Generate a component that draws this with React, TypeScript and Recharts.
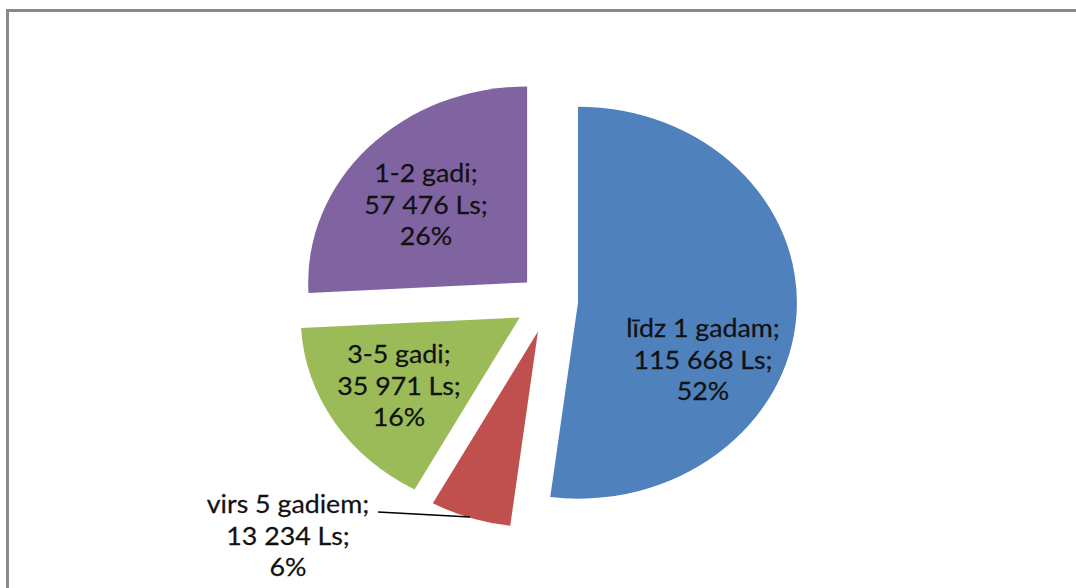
import React from 'react';
import { PieChart, Pie, Cell } from 'recharts';

const categories = ['līdz 1 gadam', 'virs 5 gadiem', '3-5 gadi', '1-2 gadi'];
const values = [115668, 13234, 35971, 57476];
const colors = ['#4F81BD', '#C0504D', '#9BBB59', '#8064A2'];
const explode = [26, 32, 31, 27];
// first-line baseline position of each data label
const labelPos = [
  { x: 703, y: 337 },
  { x: 288, y: 513 },
  { x: 399, y: 363 },
  { x: 426, y: 182 },
];
const leader = { x1: 378, y1: 512, x2: 470, y2: 517 };

const data = categories.map((name, i) => ({ name, value: values[i] }));

const SX = 1.117;
const TX = 1.05;
const RAD = Math.PI / 180;
const FONT = 'Lato, "Noto Sans", sans-serif';

const fmt = (v: number) => String(v).replace(/\B(?=(\d{3})+(?!\d))/g, ' ');

function idxOf(props: any): number {
  if (typeof props.index === 'number') return props.index;
  const n = props.name ?? props.payload?.name;
  return categories.indexOf(n);
}

function EllipseSector(props: any) {
  const { cx, cy, outerRadius, startAngle, endAngle, midAngle, fill } = props;
  const i = idxOf(props);
  const d = explode[i] ?? 0;
  const ox = cx + SX * d * Math.cos(-midAngle * RAD);
  const oy = cy + d * Math.sin(-midAngle * RAD);
  const pt = (a: number) => [ox + SX * outerRadius * Math.cos(-a * RAD), oy + outerRadius * Math.sin(-a * RAD)];
  const [x1, y1] = pt(startAngle);
  const [x2, y2] = pt(endAngle);
  const large = Math.abs(endAngle - startAngle) > 180 ? 1 : 0;
  const sweep = startAngle > endAngle ? 1 : 0;
  return (
    <path
      d={`M${ox},${oy}L${x1},${y1}A${SX * outerRadius},${outerRadius} 0 ${large} ${sweep} ${x2},${y2}Z`}
      fill={fill}
      stroke="none"
    />
  );
}

function renderLabel(props: any) {
  const i = idxOf(props);
  const p = labelPos[i];
  if (!p) return null;
  const lines = [`${categories[i]};`, `${fmt(values[i])} Ls;`, `${Math.round(props.percent * 100)}%`];
  return (
    <g key={`lbl-${i}`}>
      {i === 1 && (
        <line x1={leader.x1} y1={leader.y1} x2={leader.x2} y2={leader.y2} stroke="#000" strokeWidth={1.5} />
      )}
      {lines.map((t, k) => (
        <text
          key={k}
          transform={`translate(${p.x},${p.y + k * 31.5}) scale(${TX},1)`}
          x={0}
          y={0}
          textAnchor="middle"
          fontFamily={FONT}
          fontSize={25.5}
          fill="#111"
          stroke="#111"
          strokeWidth={0.25}
        >
          {t}
        </text>
      ))}
    </g>
  );
}

export default function App() {
  return (
    <div style={{ position: 'absolute', left: 0, top: 0, width: 1076, height: 588, overflow: 'hidden', background: '#fff' }}>
      <div
        style={{
          position: 'absolute',
          left: 6,
          top: 9,
          width: 1100,
          height: 620,
          borderTop: '3px solid #8a8a8a',
          borderLeft: '3px solid #8a8a8a',
        }}
      />
      <div style={{ position: 'absolute', left: 0, top: 0 }}>
        <PieChart width={1076} height={588} margin={{ top: 0, right: 0, bottom: 0, left: 0 }}>
          <Pie
            data={data}
            dataKey="value"
            nameKey="name"
            cx={549}
            cy={301}
            outerRadius={196}
            startAngle={90}
            endAngle={-270}
            stroke="none"
            isAnimationActive={false}
            labelLine={false}
            label={renderLabel}
            shape={EllipseSector}
            activeShape={EllipseSector}
            inactiveShape={EllipseSector}
          >
            {data.map((d, i) => (
              <Cell key={d.name} fill={colors[i]} />
            ))}
          </Pie>
        </PieChart>
      </div>
    </div>
  );
}
